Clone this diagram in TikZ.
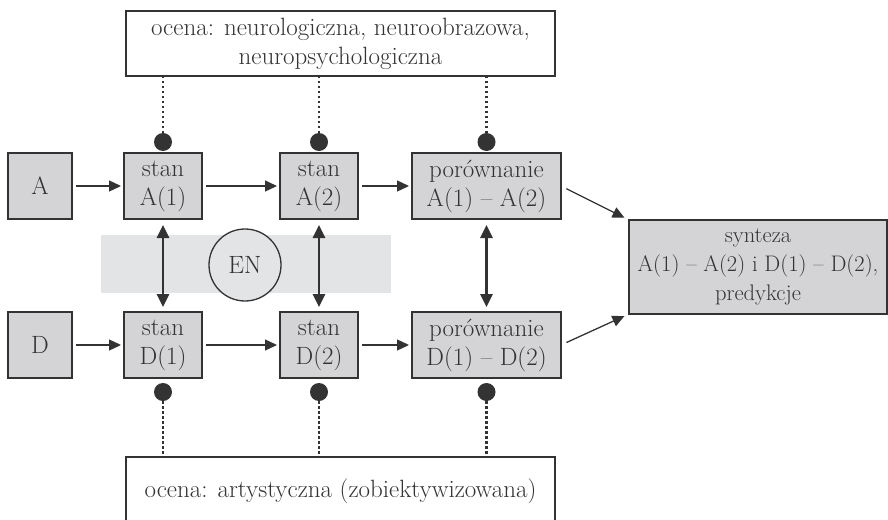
\documentclass[tikz,border=0pt]{standalone}
\usetikzlibrary{arrows.meta,positioning}
\definecolor{boxfill}{RGB}{212,212,214}
\definecolor{bandfill}{RGB}{227,228,230}
\definecolor{ink}{RGB}{51,51,51}
\begin{document}
\begin{tikzpicture}[x=1pt,y=-1pt,
  font=\fontsize{25}{29}\selectfont, text=ink,
  gbox/.style={draw=ink, line width=1.5pt, fill=boxfill, minimum height=66pt, align=center, inner sep=0pt, outer sep=0pt},
  wbox/.style={draw=ink, line width=1.5pt, fill=white, align=center, inner sep=0pt, outer sep=0pt},
  arr/.style={draw=ink, line width=1.3pt, -{Triangle[length=12pt,width=11pt]}, shorten <=4pt, shorten >=3pt},
  darr/.style={draw=ink, line width=2.6pt, {Triangle[length=13pt,width=12pt]}-{Triangle[length=13pt,width=12pt]}, shorten <=6pt, shorten >=5pt},
  dotc/.style={circle, fill=ink, minimum size=18pt, inner sep=0pt, outer sep=0pt},
  dotl/.style={draw=ink, line width=2.5pt, dash pattern=on 2.5pt off 2.5pt}
]
\useasboundingbox (0,0) rectangle (888,519);
\clip (0,0) rectangle (888,519);
% band
\fill[bandfill] (101,235) rectangle (391,293);
% boxes
\node[gbox, minimum width=64pt] (A) at (40,186) {A};
\node[gbox, minimum width=78pt] (sA1) at (163,186) {stan\\A(1)};
\node[gbox, minimum width=78pt] (sA2) at (319,186) {stan\\A(2)};
\node[gbox, minimum width=149pt] (pA) at (486.5,186) {porównanie\\A(1) -- A(2)};
\node[gbox, minimum width=64pt] (D) at (40,345) {D};
\node[gbox, minimum width=78pt] (sD1) at (163,345) {stan\\D(1)};
\node[gbox, minimum width=78pt] (sD2) at (319,345) {stan\\D(2)};
\node[gbox, minimum width=149pt] (pD) at (486.5,345) {porównanie\\D(1) -- D(2)};
\node[gbox, minimum width=258pt, minimum height=94pt, font=\fontsize{22.5}{29}\selectfont] (syn) at (758,267) {synteza\\A(1) -- A(2) i D(1) -- D(2),\\predykcje};
\node[wbox, minimum width=429pt, minimum height=65pt] (top) at (340.5,43.5) {ocena: neurologiczna, neuroobrazowa,\\neuropsychologiczna};
\node[wbox, minimum width=429pt, minimum height=68pt] (bot) at (340.5,491) {ocena: artystyczna (zobiektywizowana)};
\node[circle, draw=ink, line width=1.3pt, fill=bandfill, minimum size=72pt, inner sep=0pt] (EN) at (245,265) {EN};
% dots
\node[dotc, above=2pt of sA1] (tA1) {};
\node[dotc, above=2pt of sA2] (tA2) {};
\node[dotc, above=2pt of pA] (tpA) {};
\node[dotc, below=5pt of sD1] (bD1) {};
\node[dotc, below=5pt of sD2] (bD2) {};
\node[dotc, below=5pt of pD] (bpD) {};
\draw[dotl] (tA1.north) -- (tA1 |- top.south);
\draw[dotl] (tA2.north) -- (tA2 |- top.south);
\draw[dotl] (tpA.north) -- (tpA |- top.south);
\draw[dotl] (bD1.south) -- (bD1 |- bot.north);
\draw[dotl] (bD2.south) -- (bD2 |- bot.north);
\draw[dotl] (bpD.south) -- (bpD |- bot.north);
% arrows
\draw[arr] (A) -- (sA1);
\draw[arr] (sA1) -- (sA2);
\draw[arr] (sA2) -- (pA);
\draw[arr] (D) -- (sD1);
\draw[arr] (sD1) -- (sD2);
\draw[arr] (sD2) -- (pD);
\draw[darr] (sA1) -- (sD1);
\draw[darr] (sA2) -- (sD2);
\draw[darr] (pA) -- (pD);
\draw[arr, shorten <=6pt, shorten >=5pt] (pA.east) -- (syn.north west);
\draw[arr, shorten <=6pt, shorten >=5pt] (pD.east) -- (syn.south west);
\end{tikzpicture}
\end{document}
